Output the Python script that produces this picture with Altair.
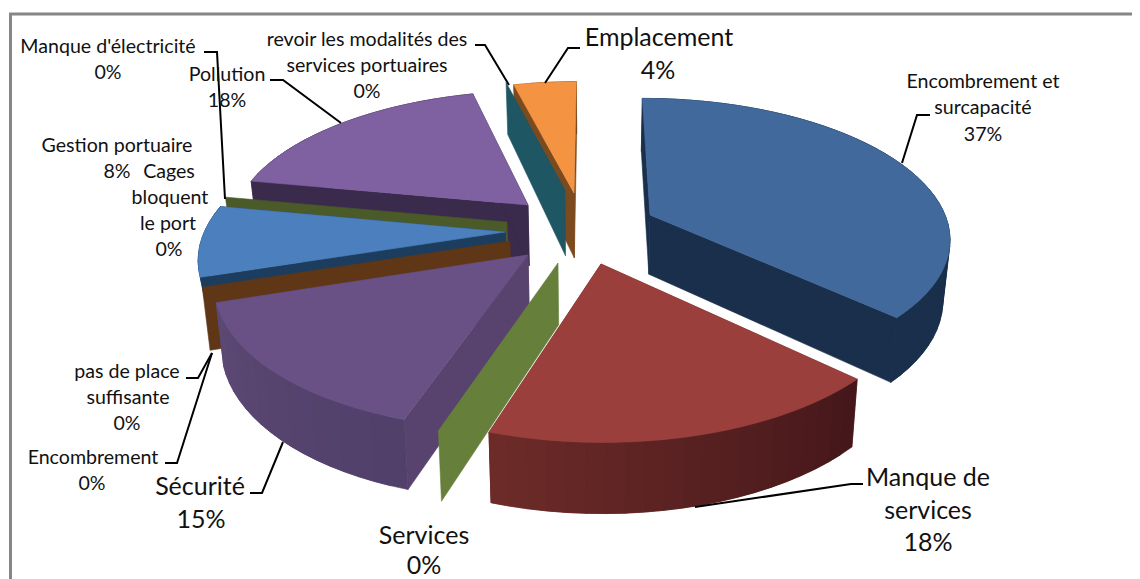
import math
import altair as alt
import pandas as pd

# ---- chart values ----
categories = ["Encombrement et surcapacité", "Manque de services", "Services", "Sécurité",
              "Encombrement", "pas de place suffisante", "Gestion portuaire", "Cages bloquent le port",
              "Manque d'électricité", "Pollution", "revoir les modalités des services portuaires", "Emplacement"]
values = [37, 18, 0, 15, 0, 0, 8, 0, 0, 18, 0, 4]

SMALL, LARGE = 19.6, 25
# label text lines: (text, x, y, font size)
label_lines = [
    ("Manque d'électricité", 108, 47, SMALL), ("0%", 108, 73, SMALL),
    ("revoir les modalités des", 367, 40, SMALL), ("services portuaires", 367, 66, SMALL), ("0%", 367, 92, SMALL),
    ("Pollution", 227, 75, SMALL), ("18%", 227, 101, SMALL),
    ("Gestion portuaire", 117, 146, SMALL), ("8%", 117, 172, SMALL),
    ("Cages", 169, 172, SMALL), ("bloquent", 170, 198, SMALL), ("le port", 168, 224, SMALL), ("0%", 169, 250, SMALL),
    ("pas de place", 127, 372, SMALL), ("suffisante", 128, 398, SMALL), ("0%", 127, 424, SMALL),
    ("Encombrement", 93, 458, SMALL), ("0%", 92, 484, SMALL),
    ("Sécurité", 200, 487, LARGE), ("15%", 201, 520, LARGE),
    ("Services", 424, 536, LARGE), ("0%", 424, 566, LARGE),
    ("Manque de", 928, 478, LARGE), ("services", 928, 511, LARGE), ("18%", 928, 543, LARGE),
    ("Emplacement", 659, 38, LARGE), ("4%", 658, 71, LARGE),
    ("Encombrement et", 983, 82, SMALL), ("surcapacité", 983, 108, SMALL), ("37%", 983, 135, SMALL),
]

# leader polylines
leaders = [
    [(204, 52), (217, 52), (225, 199)],
    [(270, 80), (283, 80), (341, 123)],
    [(475, 45), (485, 45), (509, 85)],
    [(580, 48), (568, 48), (545, 83)],
    [(930, 115), (917, 115), (902, 163)],
    [(863, 484), (851, 484), (695, 507)],
    [(250, 493), (262, 493), (283, 442)],
    [(165, 463), (177, 463), (212, 353)],
    [(186, 378), (198, 378), (212, 353)],
]

# ---- 3-D pie view ----
CX, CY, A, B, P, DEPTH, SHRINK = 592, 230, 300, 139, 0.155, 60, 0.98

# drawn back to front: category index, apex on page, top colour,
# colour of the cut face at the slice start, wall colours, extra depth at the apex, wall height factor
slices = [
    (11, (574, 193), "#f49443", "#7c4a1f", ("#7c4a1f", "#7c4a1f"), 7, 1),
    (10, (565, 190), None, "#1f5663", None, 8, 1),
    (9, (528, 205), "#7f61a2", "#3a2a4c", ("#3a2a4c", "#3a2a4c"), 2, 1),
    (7, (507, 222), None, "#4a5a28", None, 0, 1),
    (6, (505, 232), "#4b7fbd", "#1c3d5e", ("#1c3d5e", "#1c3d5e"), 0, 0.6),
    (4, (510, 241), None, "#5f3716", None, 0, 1),
    (3, (528, 255), "#695186", "#58436f", ("#50406a", "#5c4874"), 0, 1),
    (2, (558, 263), None, "#667f3a", None, 0, 1),
    (1, (601, 264), "#9a3f3c", "#6b2a27", ("#45171a", "#6c2b28"), 0, 1),
    (0, (650, 215), "#41699b", "#1a2f4b", ("#1a2f4b", "#1a2f4b"), 0, 1),
]


def to_plane(px, py):
    v = -(py - CY) / (B + P * (py - CY))
    return (px - CX) * (1 + P * v) / A, v


def to_page(u, v, lower=False, extra=0, height=1):
    s = 1 / (1 + P * v)
    x, y = A * u * s, B * v * s
    if lower:
        return CX + x * SHRINK, CY - y + DEPTH * height * s ** 0.8 + extra
    return CX + x, CY - y


def mix(c1, c2, t):
    a = [int(c1[i:i + 2], 16) for i in (1, 3, 5)]
    b = [int(c2[i:i + 2], 16) for i in (1, 3, 5)]
    return "#" + "".join(f"{round(p + (q - p) * t):02x}" for p, q in zip(a, b))


starts, total = [], 0
for val in values:
    starts.append(total * 3.6)
    total += val

pieces = []


def add_piece(points, colour):
    pid = len(pieces)
    pieces.append((pid, colour, points + points[:1]))


for idx, apex, top, cut, wall, extra, height in slices:
    u0, v0 = to_plane(*apex)
    t1 = starts[idx]
    t2 = t1 + values[idx] * 3.6

    def rim(t, lower=False):
        r = math.radians(t)
        return to_page(u0 + math.sin(r), v0 + math.cos(r), lower, 0, height)

    # cut face at start angle
    add_piece([to_page(u0, v0), rim(t1), rim(t1, True), to_page(u0, v0, True, extra, height)], cut)
    if top is None:
        continue
    # cut face at end angle
    add_piece([to_page(u0, v0), rim(t2), rim(t2, True), to_page(u0, v0, True, extra, height)],
              wall[0] if idx == 0 else cut)
    # outer wall strips, each one overlapped by the next so no seam shows
    n = max(2, int((t2 - t1) / 3))
    step = (t2 - t1) / n
    for k in range(n):
        a = t1 + step * k
        b = t2 if k == n - 1 else a + step * 2
        add_piece([rim(a), rim((a + b) / 2), rim(b), rim(b, True), rim((a + b) / 2, True), rim(a, True)],
                  mix(wall[0], wall[1], k / max(1, n - 1)))
    # top face
    m = max(4, int(t2 - t1))
    arc = [rim(t1 + (t2 - t1) * k / m) for k in range(m + 1)]
    add_piece([to_page(u0, v0)] + arc, top)

poly_rows = []
for pid, colour, pts in pieces:
    for i, (x, y) in enumerate(pts):
        poly_rows.append({"piece": pid, "i": i, "x": x, "y": y, "colour": colour})
poly_df = pd.DataFrame(poly_rows)

leader_df = pd.DataFrame([
    {"l": n, "i": i, "x": x, "y": y} for n, line in enumerate(leaders) for i, (x, y) in enumerate(line)
])
text_df = pd.DataFrame(label_lines, columns=["text", "x", "y", "size"])

X = alt.X("x:Q", scale=alt.Scale(domain=[8, 1132], nice=False, zero=False), axis=None)
Y = alt.Y("y:Q", scale=alt.Scale(domain=[579, 8], nice=False, zero=False), axis=None)

pie = alt.Chart(poly_df).mark_line(strokeWidth=0.6, interpolate="linear").encode(
    x=X, y=Y,
    detail="piece:N", order="i:Q",
    fill=alt.Fill("colour:N", scale=None),
    stroke=alt.Stroke("colour:N", scale=None),
)

frame_df = pd.DataFrame({"l": [0, 0, 0], "i": [0, 1, 2], "x": [10.5, 10.5, 1132], "y": [579, 14, 14]})
frame = alt.Chart(frame_df).mark_line(color="#868686", strokeWidth=3).encode(x=X, y=Y, order="i:Q")

lead = alt.Chart(leader_df).mark_line(color="#000000", strokeWidth=2).encode(x=X, y=Y, detail="l:N", order="i:Q")

text = alt.Chart(text_df).mark_text(font="Lato", align="center", baseline="middle", color="#111111").encode(
    x=X, y=Y, text="text:N", size=alt.Size("size:Q", scale=None)
)

chart = alt.layer(pie, frame, lead, text).properties(
    width=1124, height=571, padding=0, autosize=alt.AutoSizeParams(type="none"), background="#ffffff"
).configure_view(stroke=None)

chart.save("out.html", embed_options={"renderer": "svg", "actions": False})
